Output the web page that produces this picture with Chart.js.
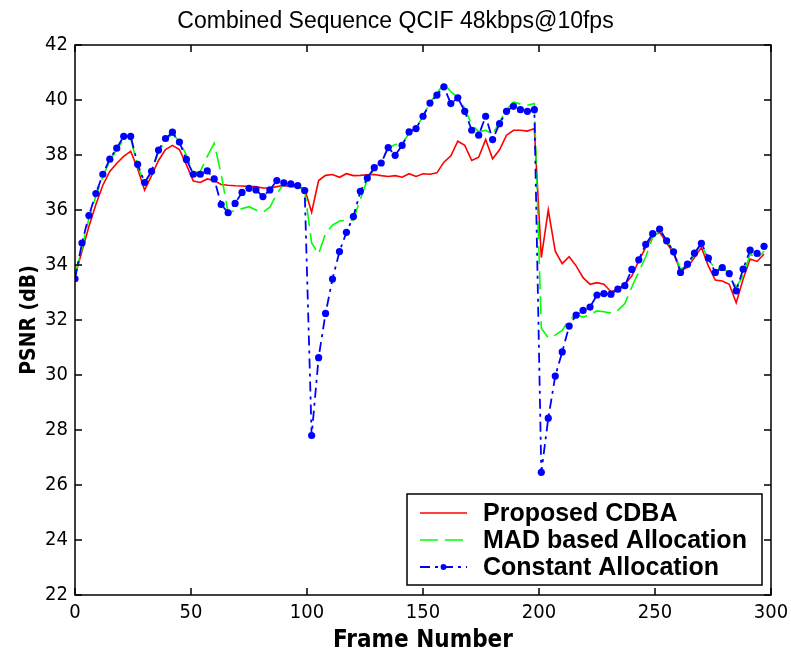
<!DOCTYPE html>
<html><head><meta charset="utf-8">
<script src="https://cdn.jsdelivr.net/npm/chart.js@4.4.1/dist/chart.umd.min.js"></script>
<style>html,body{margin:0;padding:0;background:#fff}#wrap{width:791px;height:660px}</style>
</head><body><div id="wrap"><canvas id="c" width="791" height="660"></canvas></div>
<script>
const frames = [0,3,6,9,12,15,18,21,24,27,30,33,36,39,42,45,48,51,54,57,60,63,66,69,72,75,78,81,84,87,90,93,96,99,
102,105,108,111,114,117,120,123,126,129,132,135,138,141,144,147,150,153,156,159,162,165,168,171,174,177,180,183,186,189,192,195,198,
201,204,207,210,213,216,219,222,225,228,231,234,237,240,243,246,249,252,255,258,261,264,267,270,273,276,279,282,285,288,291,294,297];

const cdba = [33.6,34.5,35.4,36.2,36.9,37.4,37.7,37.95,38.14,37.5,36.72,37.25,37.8,38.2,38.35,38.2,37.65,37.05,37.0,37.13,37.07,36.93,36.9,36.88,36.87,36.85,36.85,36.8,36.8,36.85,36.89,36.85,36.85,36.77,
35.92,37.07,37.26,37.29,37.19,37.32,37.25,37.26,37.28,37.29,37.25,37.22,37.25,37.19,37.32,37.22,37.32,37.3,37.35,37.74,37.97,38.5,38.35,37.8,37.92,38.56,37.86,38.19,38.72,38.9,38.9,38.87,38.96,
34.27,36.0,34.5,34.05,34.3,33.97,33.54,33.3,33.36,33.3,33.03,33.12,33.3,33.6,34.15,34.64,35.05,35.19,34.82,34.42,33.79,33.91,34.27,34.64,33.97,33.45,33.42,33.3,32.63,33.49,34.22,34.13,34.4];

const mad = [33.6,34.6,35.7,36.5,37.2,37.8,38.2,38.55,38.6,37.6,36.95,37.4,38.1,38.55,38.75,38.5,38.0,37.35,37.4,37.95,38.43,37.3,35.9,35.98,36.05,36.12,36.0,35.92,36.1,36.59,36.95,36.95,36.85,36.7,
34.8,34.4,35.15,35.45,35.6,35.62,35.64,36.4,37.1,37.5,37.8,38.25,38.38,38.4,38.8,39.0,39.4,39.9,40.25,40.58,40.3,40.1,39.7,39.1,38.84,38.9,38.75,39.2,39.65,39.93,39.85,39.81,39.87,
31.7,31.35,31.45,31.62,32.0,32.2,32.1,32.2,32.33,32.3,32.25,32.35,32.6,33.2,33.75,34.3,35.0,35.25,34.9,34.5,33.85,34.0,34.4,34.75,34.2,33.85,33.9,33.7,33.2,33.6,34.4,34.25,34.5];

const constant = [33.5,34.8,35.8,36.6,37.3,37.85,38.25,38.68,38.68,37.66,37.0,37.41,38.18,38.6,38.83,38.47,37.84,37.3,37.3,37.42,37.13,36.2,35.9,36.24,36.64,36.79,36.73,36.49,36.73,37.07,36.99,36.95,36.89,36.71,
27.8,30.63,32.24,33.49,34.49,35.19,35.76,36.68,37.16,37.54,37.71,38.27,37.99,38.35,38.84,38.96,39.41,39.89,40.18,40.48,39.87,40.08,39.59,38.9,38.72,39.41,38.56,39.14,39.59,39.77,39.65,39.59,39.65,
26.46,28.43,29.96,30.84,31.78,32.18,32.35,32.47,32.91,32.96,32.94,33.12,33.25,33.84,34.19,34.75,35.14,35.31,34.88,34.48,33.73,34.03,34.43,34.79,34.25,33.73,33.91,33.69,33.06,33.85,34.54,34.42,34.68];

const seriesNames = ['Proposed CDBA','MAD based Allocation','Constant Allocation'];
const xTicks = [0,50,100,150,200,250,300];
const yTicks = [22,24,26,28,30,32,34,36,38,40,42];

const narrow = "'DejaVu Sans Condensed','DejaVu Sans',sans-serif";
const sans = "'Liberation Sans',Arial,sans-serif";

const pts = arr => frames.map((f,i)=>({x:f,y:arr[i]}));

const frameTicks = {
  id:'frameTicks',
  afterDatasetsDraw(chart){
    const {ctx, chartArea:a, scales:{x,y}} = chart;
    const L = 7;
    ctx.save();
    ctx.strokeStyle = '#000';
    ctx.lineWidth = 1.5;
    ctx.strokeRect(a.left, a.top, a.right-a.left, a.bottom-a.top);
    ctx.beginPath();
    xTicks.forEach(v=>{
      const px = x.getPixelForValue(v);
      ctx.moveTo(px,a.bottom); ctx.lineTo(px,a.bottom-L);
      ctx.moveTo(px,a.top); ctx.lineTo(px,a.top+L);
    });
    yTicks.forEach(v=>{
      const py = y.getPixelForValue(v);
      ctx.moveTo(a.left,py); ctx.lineTo(a.left+L,py);
      ctx.moveTo(a.right,py); ctx.lineTo(a.right-L,py);
    });
    ctx.stroke();
    ctx.restore();
  }
};

const legendBox = {
  id:'legendBox',
  afterDraw(chart){
    const {ctx, chartArea:a} = chart;
    const w = 355, h = 91;
    const bx = a.right - 9 - w, by = a.bottom - 10 - h;
    ctx.save();
    ctx.fillStyle = '#fff';
    ctx.fillRect(bx,by,w,h);
    ctx.strokeStyle = '#000';
    ctx.lineWidth = 1.5;
    ctx.strokeRect(bx,by,w,h);
    [0,1,2].forEach((di,k)=>{
      const ds = chart.data.datasets[di];
      const yy = by + 19 + k*27;
      ctx.save();
      ctx.strokeStyle = ds.borderColor;
      ctx.lineWidth = ds.borderWidth;
      ctx.setLineDash(ds.borderDash || []);
      ctx.beginPath();
      ctx.moveTo(bx+13,yy); ctx.lineTo(bx+60,yy);
      ctx.stroke();
      if (ds.pointRadius > 0){
        ctx.setLineDash([]);
        ctx.fillStyle = ds.pointBackgroundColor;
        ctx.beginPath(); ctx.arc(bx+36.5,yy,ds.pointRadius*0.8,0,Math.PI*2); ctx.fill();
      }
      ctx.restore();
      ctx.fillStyle = '#000';
      ctx.font = 'bold 25px ' + sans;
      ctx.textBaseline = 'middle';
      ctx.textAlign = 'left';
      ctx.fillText(ds.label, bx+76, yy+1);
    });
    ctx.restore();
  }
};

new Chart(document.getElementById('c'), {
  type:'line',
  data:{
    datasets:[
      {label:seriesNames[0], data:pts(cdba), borderColor:'#ff0000', borderWidth:1.6, pointRadius:0, tension:0, order:2},
      {label:seriesNames[1], data:pts(mad), borderColor:'#00ff00', borderWidth:1.6, borderDash:[18,7], pointRadius:0, tension:0, order:1},
      {label:seriesNames[2], data:pts(constant), borderColor:'#0000ff', borderWidth:1.8, borderDash:[10,5,3,5], pointRadius:3.6, pointBackgroundColor:'#0000ff', pointBorderWidth:0, pointBorderColor:'#0000ff', tension:0, order:0}
    ]
  },
  options:{
    responsive:false, animation:false,
    layout:{padding:{left:0,right:0,top:0,bottom:0}},
    plugins:{
      legend:{display:false},
      tooltip:{enabled:false},
      title:{display:true, text:'Combined Sequence QCIF 48kbps@10fps', color:'#000',
        font:{family:sans, size:23, weight:'normal'}, padding:{top:8,bottom:9.4}}
    },
    scales:{
      x:{type:'linear', min:0, max:300,
        afterBuildTicks:s=>{s.ticks = xTicks.map(v=>({value:v}));},
        afterFit:s=>{s.height = 65; s.paddingLeft = 0; s.paddingRight = 20;},
        grid:{display:false, drawTicks:false},
        border:{display:false},
        ticks:{color:'#000', padding:6, maxRotation:0, font:{family:narrow, size:20}},
        title:{display:true, text:'Frame Number', color:'#000', font:{family:narrow, size:24, weight:'bold'}, padding:{top:0,bottom:5}}
      },
      y:{type:'linear', min:22, max:42,
        afterBuildTicks:s=>{s.ticks = yTicks.map(v=>({value:v}));},
        afterFit:s=>{s.width = 75;},
        grid:{display:false, drawTicks:false},
        border:{display:false},
        ticks:{color:'#000', padding:7, font:{family:narrow, size:20}},
        title:{display:true, text:'PSNR (dB)', color:'#000', font:{family:narrow, size:21, weight:'bold'}, padding:{top:17,bottom:0}}
      }
    }
  },
  plugins:[frameTicks, legendBox]
});
</script></body></html>
